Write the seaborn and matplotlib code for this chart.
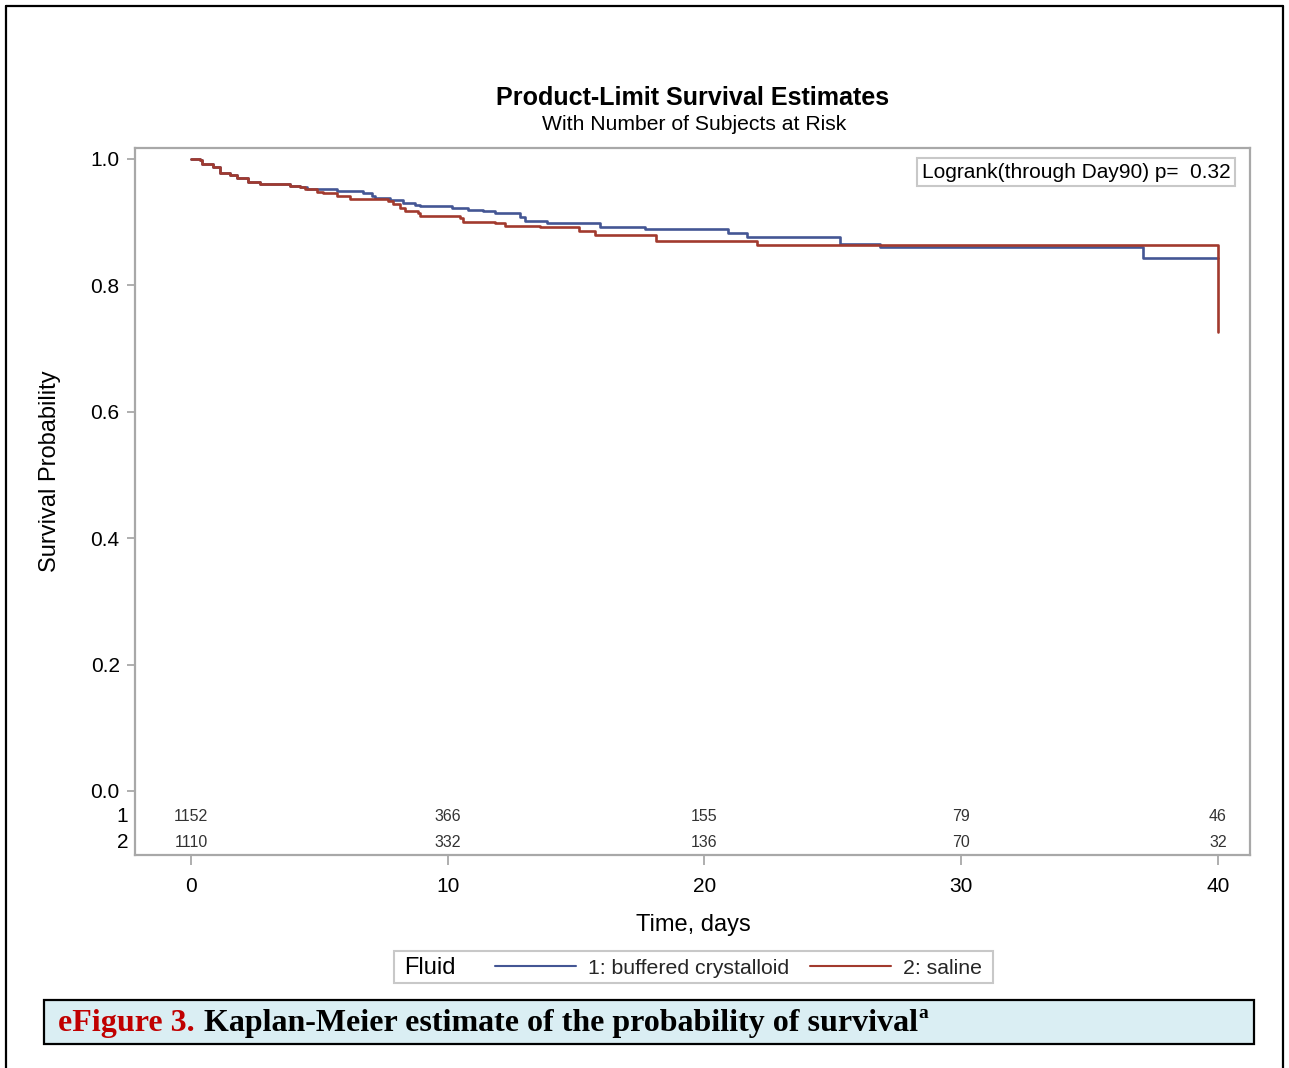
import numpy as np
import pandas as pd
import matplotlib
matplotlib.use("Agg")
import matplotlib.pyplot as plt
import seaborn as sns
from matplotlib.patches import Rectangle
from matplotlib.lines import Line2D

# ---------------- data ----------------
groups = ["1: buffered crystalloid", "2: saline"]

buff_time = [0, 0.35, 0.42, 0.87, 1.13, 1.52, 1.78, 2.23, 2.69, 3.6, 3.86, 4.25,
             4.5, 5.67, 6.71, 7.04, 7.17, 7.75, 8.27, 8.72, 8.92, 10.15, 10.8,
             11.39, 11.84, 12.81, 13.0, 13.85, 15.93, 17.68, 20.93, 21.64,
             25.28, 26.84, 37.07, 40.0]
buff_surv = [1.0, 0.998, 0.992, 0.988, 0.978, 0.975, 0.970, 0.964, 0.961, 0.960,
             0.958, 0.955, 0.952, 0.950, 0.946, 0.941, 0.939, 0.935, 0.930, 0.927,
             0.926, 0.923, 0.920, 0.917, 0.914, 0.909, 0.902, 0.898, 0.893, 0.889,
             0.883, 0.876, 0.866, 0.860, 0.843, 0.843]

sal_time = [0, 0.35, 0.42, 0.87, 1.13, 1.52, 1.78, 2.23, 2.69, 3.6, 3.86, 4.25,
            4.44, 4.9, 5.15, 5.67, 6.19, 6.78, 7.68, 7.88, 8.14, 8.33, 8.85, 8.92,
            10.48, 10.6, 11.84, 12.23, 13.59, 15.12, 15.74, 18.11, 22.03, 40.0]
sal_surv = [1.0, 0.998, 0.992, 0.988, 0.978, 0.975, 0.970, 0.964, 0.961, 0.960,
            0.958, 0.955, 0.952, 0.948, 0.946, 0.941, 0.937, 0.936, 0.934, 0.929,
            0.923, 0.918, 0.914, 0.910, 0.907, 0.901, 0.898, 0.894, 0.892, 0.886,
            0.880, 0.871, 0.864, 0.726]

risk_times = [0, 10, 20, 30, 40]
risk_buff = [1152, 366, 155, 79, 46]
risk_sal = [1110, 332, 136, 70, 32]
risk_rows = ["1", "2"]

xtick_vals = [0, 10, 20, 30, 40]
ytick_vals = [0.0, 0.2, 0.4, 0.6, 0.8, 1.0]
ytick_labels = ["0.0", "0.2", "0.4", "0.6", "0.8", "1.0"]

title_text = "Product-Limit Survival Estimates"
subtitle_text = "With Number of Subjects at Risk"
logrank_text = "Logrank(through Day90) p=  0.32"
xlabel_text = "Time, days"
ylabel_text = "Survival Probability"
legend_title = "Fluid"
caption_red = "eFigure 3."
caption_black = "Kaplan-Meier estimate of the probability of survival"
caption_sup = "a"

# ---------------- style ----------------
sns.set_theme(style="white")
plt.rcParams["font.family"] = ["Liberation Sans", "DejaVu Sans"]

BLUE = "#445694"
RED = "#A23A2E"
GRAY = "#A8A8A8"
palette = {groups[0]: BLUE, groups[1]: RED}

W, H = 1289, 1068
fig = plt.figure(figsize=(W / 100, H / 100), dpi=100)
fig.patch.set_facecolor("white")


def fx(px):
    return px / W


def fy(py):
    return 1 - py / H


ax = fig.add_axes([fx(135), fy(855), fx(1250) - fx(135), fy(148) - fy(855)])

df = pd.concat([
    pd.DataFrame({"time": buff_time, "surv": buff_surv, "group": groups[0]}),
    pd.DataFrame({"time": sal_time, "surv": sal_surv, "group": groups[1]}),
], ignore_index=True)

sns.lineplot(data=df, x="time", y="surv", hue="group", palette=palette,
             drawstyle="steps-post", estimator=None, sort=False, legend=False,
             linewidth=1.9, ax=ax)

ax.set_xlim(-2.181, 41.25)
ax.set_ylim(-0.1013, 1.0174)
ax.set_xticks(xtick_vals)
ax.set_xticklabels([str(v) for v in xtick_vals])
ax.set_yticks(ytick_vals)
ax.set_yticklabels(ytick_labels)
ax.set_xlabel("")
ax.set_ylabel("")
for sp in ax.spines.values():
    sp.set_color(GRAY)
    sp.set_linewidth(1.6)
ax.tick_params(axis="y", left=True, direction="out", length=6, width=1.3,
               color=GRAY, labelsize=15, labelcolor="black", pad=5)
ax.tick_params(axis="x", bottom=True, direction="out", length=7.5, width=1.3,
               color=GRAY, labelsize=15, labelcolor="black", pad=8)

# risk table
for t, n1, n2 in zip(risk_times, risk_buff, risk_sal):
    ax.text(t, -0.041, str(n1), ha="center", va="center", fontsize=11.5, color="#333333")
    ax.text(t, -0.082, str(n2), ha="center", va="center", fontsize=11.5, color="#333333")
trans = ax.get_yaxis_transform()
ax.text(-0.006, -0.041, risk_rows[0], transform=trans, ha="right", va="center",
        fontsize=15, color="black")
ax.text(-0.006, -0.082, risk_rows[1], transform=trans, ha="right", va="center",
        fontsize=15, color="black")

# logrank box
fig.text(fx(1076), fy(172), logrank_text, ha="center", va="center", fontsize=15,
         color="black",
         bbox=dict(boxstyle="square,pad=0.22", facecolor="white", edgecolor="#C8C8C8",
                   linewidth=1.5))

# titles and labels
fig.text(fx(693), fy(98), title_text, ha="center", va="center", fontsize=18.1,
         fontweight="bold", color="black")
fig.text(fx(694), fy(124), subtitle_text, ha="center", va="center", fontsize=15.2,
         color="black")
fig.text(fx(693), fy(925), xlabel_text, ha="center", va="center", fontsize=17,
         color="black")
fig.text(fx(50), fy(471), ylabel_text, ha="center", va="center", fontsize=17,
         rotation=90, color="black")

# legend
fig.add_artist(Rectangle((fx(394), fy(983)), fx(993) - fx(394), fy(951) - fy(983),
                         transform=fig.transFigure, facecolor="white",
                         edgecolor="#C8C8C8", linewidth=1.5))
fig.text(fx(404), fy(968), legend_title, ha="left", va="center", fontsize=17,
         color="black")
handles = [Line2D([], [], color=BLUE, linewidth=1.5),
           Line2D([], [], color=RED, linewidth=1.5)]
fig.legend(handles, groups, loc="center left", bbox_to_anchor=(fx(495), fy(968)),
           ncol=2, frameon=False, fontsize=15.3, handlelength=3.8,
           handletextpad=0.6, columnspacing=0.95, borderpad=0, borderaxespad=0)

# caption box
fig.add_artist(Rectangle((fx(44), fy(1044)), fx(1254) - fx(44), fy(1000) - fy(1044),
                         transform=fig.transFigure, facecolor="#DAEEF3",
                         edgecolor="black", linewidth=1.6))
fig.canvas.draw()
renderer = fig.canvas.get_renderer()
t1 = fig.text(fx(58), fy(1023), caption_red, ha="left", va="center", fontsize=23,
              fontweight="bold", family="Liberation Serif", color="#C00000")
bb1 = t1.get_window_extent(renderer)
t2 = fig.text((bb1.x1 + 9) / W, fy(1023), caption_black, ha="left", va="center",
              fontsize=23, fontweight="bold", family="Liberation Serif", color="black")
bb2 = t2.get_window_extent(renderer)
fig.text((bb2.x1 + 1) / W, fy(1013), caption_sup, ha="left", va="center",
         fontsize=14, fontweight="bold", family="Liberation Serif", color="black")

# outer frame
fig.add_artist(Line2D([fx(6), fx(6)], [fy(6), 0], transform=fig.transFigure,
                      color="black", linewidth=1.6))
fig.add_artist(Line2D([fx(1283), fx(1283)], [fy(6), 0], transform=fig.transFigure,
                      color="black", linewidth=1.6))
fig.add_artist(Line2D([fx(6), fx(1283)], [fy(6), fy(6)], transform=fig.transFigure,
                      color="black", linewidth=1.6))

fig.savefig("out.png", dpi=100, facecolor="white")
